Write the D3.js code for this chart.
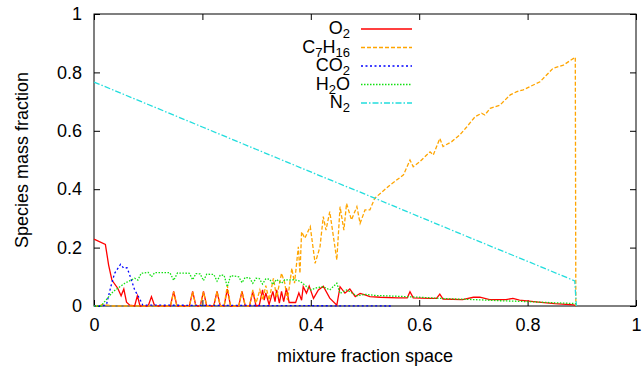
<!DOCTYPE html>
<html>
<head>
    <title>Species mass fraction</title>
    <script src="https://d3js.org/d3.v7.min.js"></script>
    <style>
        body { margin: 0; background: #fff; }
        svg { display: block; }
        text { font-family: "Liberation Sans", Arial, sans-serif; fill: #000; }
    </style>
</head>
<body>
    <svg width="642" height="369"></svg>
    <script>
        // tick labels
        const xTicks = [0, 0.2, 0.4, 0.6, 0.8, 1];
        const yTicks = [0, 0.2, 0.4, 0.6, 0.8, 1];

        // O2
        const o2X = [0, 0.021, 0.027, 0.033, 0.044, 0.05, 0.055, 0.06, 0.066, 0.075, 0.08, 0.085, 0.1, 0.106, 0.112,
            0.141, 0.147, 0.153, 0.176, 0.182, 0.188, 0.196, 0.202, 0.208, 0.221, 0.227, 0.233, 0.24, 0.246, 0.252,
            0.267, 0.273, 0.279, 0.287, 0.293, 0.299, 0.305, 0.311, 0.314, 0.317, 0.323, 0.33, 0.334, 0.337, 0.342,
            0.346, 0.35, 0.355, 0.36, 0.372, 0.378, 0.383, 0.386, 0.392, 0.397, 0.405, 0.414, 0.423, 0.435, 0.448,
            0.454, 0.463, 0.472, 0.482, 0.491, 0.5, 0.509, 0.528, 0.56, 0.578, 0.583, 0.589, 0.62, 0.632, 0.638,
            0.644, 0.68, 0.7, 0.712, 0.73, 0.76, 0.773, 0.785, 0.82, 0.85, 0.885, 0.89];
        const o2Y = [0.229, 0.211, 0.14, 0.089, 0.06, 0.035, 0.058, 0.013, 0.003, 0, 0.035, 0, 0, 0.032, 0,
            0, 0.05, 0, 0, 0.05, 0, 0, 0.05, 0, 0, 0.05, 0, 0, 0.058, 0,
            0, 0.05, 0, 0, 0.05, 0, 0.003, 0.055, 0.02, 0.045, 0.005, 0.05, 0.015, 0.055, 0.01,
            0.05, 0.015, 0.06, 0.012, 0.012, 0.045, 0.02, 0.066, 0.044, 0.068, 0.026, 0.055, 0.068, 0.027, 0.003,
            0.066, 0.044, 0.058, 0.032, 0.043, 0.038, 0.032, 0.03, 0.028, 0.028, 0.049, 0.028, 0.026, 0.026, 0.041,
            0.024, 0.022, 0.03, 0.03, 0.022, 0.022, 0.026, 0.02, 0.013, 0.008, 0.004, 0];

        // C7H16
        const fuelX = [0, 0.01, 0.015, 0.025, 0.035, 0.141, 0.147, 0.153, 0.176, 0.182, 0.188, 0.196, 0.202, 0.208,
            0.221, 0.227, 0.233, 0.24, 0.246, 0.252, 0.267, 0.273, 0.279, 0.287, 0.293, 0.299, 0.306, 0.311, 0.317,
            0.323, 0.331, 0.337, 0.346, 0.352, 0.357, 0.365, 0.37, 0.377, 0.38, 0.383, 0.389, 0.399, 0.408, 0.417,
            0.423, 0.428, 0.435, 0.448, 0.454, 0.461, 0.466, 0.475, 0.485, 0.491, 0.5, 0.509, 0.518, 0.546, 0.571,
            0.583, 0.589, 0.601, 0.62, 0.626, 0.638, 0.644, 0.66, 0.675, 0.688, 0.703, 0.715, 0.721, 0.731, 0.749,
            0.768, 0.78, 0.792, 0.804, 0.823, 0.835, 0.847, 0.866, 0.888, 0.889];
        const fuelY = [0, 0, 0.005, 0.003, 0, 0, 0.048, 0, 0, 0.048, 0, 0, 0.048, 0,
            0, 0.05, 0, 0, 0.07, 0, 0, 0.05, 0, 0, 0.055, 0.01, 0.055, 0.02, 0.07,
            0.02, 0.095, 0.03, 0.112, 0.078, 0.02, 0.129, 0.078, 0.203, 0.112, 0.254, 0.232, 0.272, 0.146, 0.203,
            0.306, 0.26, 0.323, 0.158, 0.34, 0.26, 0.351, 0.295, 0.34, 0.283, 0.329, 0.329, 0.369, 0.414, 0.449,
            0.5, 0.477, 0.494, 0.528, 0.517, 0.574, 0.546, 0.563, 0.586, 0.614, 0.648, 0.66, 0.654, 0.677, 0.688,
            0.723, 0.734, 0.74, 0.751, 0.768, 0.791, 0.814, 0.825, 0.852, 0];

        // CO2
        const co2X = [0, 0.015, 0.023, 0.031, 0.038, 0.049, 0.055, 0.061, 0.068, 0.075, 0.084, 0.09, 0.55];
        const co2Y = [0, 0, 0.005, 0.066, 0.112, 0.143, 0.129, 0.131, 0.095, 0.055, 0.026, 0.003, 0];

        // H2O
        const h2oX = [0, 0.013, 0.035, 0.057, 0.075, 0.081, 0.087, 0.1, 0.106, 0.112, 0.14, 0.147, 0.154, 0.176,
            0.182, 0.188, 0.196, 0.202, 0.208, 0.221, 0.227, 0.233, 0.24, 0.246, 0.252, 0.267, 0.273, 0.279, 0.287,
            0.293, 0.299, 0.305, 0.311, 0.317, 0.324, 0.33, 0.337, 0.346, 0.352, 0.36, 0.37, 0.38, 0.39, 0.4, 0.41,
            0.423, 0.435, 0.448, 0.454, 0.466, 0.485, 0.5, 0.52, 0.55, 0.6, 0.65, 0.7, 0.75, 0.8, 0.85, 0.88, 0.889, 0.89];
        const h2oY = [0, 0, 0.049, 0.078, 0.095, 0.089, 0.112, 0.115, 0.1, 0.114, 0.114, 0.088, 0.113, 0.112,
            0.09, 0.111, 0.11, 0.087, 0.109, 0.108, 0.085, 0.106, 0.105, 0.066, 0.104, 0.1, 0.08, 0.098, 0.096,
            0.078, 0.095, 0.094, 0.075, 0.093, 0.092, 0.074, 0.091, 0.078, 0.09, 0.089, 0.09, 0.085, 0.07, 0.055, 0.062,
            0.066, 0.055, 0.078, 0.043, 0.055, 0.035, 0.04, 0.036, 0.034, 0.03, 0.025, 0.022, 0.018, 0.015, 0.011, 0.009, 0.008, 0];

        // N2
        const n2X = [0, 0.1, 0.2, 0.3, 0.4, 0.5, 0.6, 0.7, 0.8, 0.887, 0.89];
        const n2Y = [0.767, 0.69, 0.613, 0.536, 0.459, 0.383, 0.306, 0.229, 0.153, 0.086, 0];

        const series = [
            { name: "O2", sub: [["O", false], ["2", true]], x: o2X, y: o2Y, color: "#ff0000", dash: null },
            { name: "C7H16", sub: [["C", false], ["7", true], ["H", false], ["16", true]], x: fuelX, y: fuelY, color: "#ffa500", dash: "4,2" },
            { name: "CO2", sub: [["CO", false], ["2", true]], x: co2X, y: co2Y, color: "#0000ff", dash: "2,2.5" },
            { name: "H2O", sub: [["H", false], ["2", true], ["O", false]], x: h2oX, y: h2oY, color: "#11e011", dash: "1.5,1.5" },
            { name: "N2", sub: [["N", false], ["2", true]], x: n2X, y: n2Y, color: "#22dddd", dash: "6,2,1.5,2" }
        ];

        const margin = { left: 94, right: 6, top: 14, bottom: 63 };
        const W = 642, H = 369;
        const x = d3.scaleLinear().domain([0, 1]).range([margin.left, W - margin.right]);
        const y = d3.scaleLinear().domain([0, 1]).range([H - margin.bottom, margin.top]);

        const svg = d3.select("svg");

        // axes with inward ticks, mirrored on all four sides
        const fmt = d => d === 0 || d === 1 ? d3.format("d")(d) : d3.format(".1f")(d);
        const axBottom = svg.append("g").attr("transform", `translate(0,${y(0)})`)
            .call(d3.axisBottom(x).tickValues(xTicks).tickSize(-6).tickPadding(12).tickFormat(fmt));
        const axTop = svg.append("g").attr("transform", `translate(0,${y(1)})`)
            .call(d3.axisTop(x).tickValues(xTicks).tickSize(-6).tickFormat(""));
        const axLeft = svg.append("g").attr("transform", `translate(${x(0)},0)`)
            .call(d3.axisLeft(y).tickValues(yTicks).tickSize(-6).tickPadding(12).tickFormat(fmt));
        const axRight = svg.append("g").attr("transform", `translate(${x(1)},0)`)
            .call(d3.axisRight(y).tickValues(yTicks).tickSize(-6).tickFormat(""));
        [axBottom, axTop, axLeft, axRight].forEach(g => {
            g.select(".domain").remove();
            g.selectAll("line").attr("stroke", "#000");
            g.selectAll("text").attr("font-size", 18).attr("fill", "#000")
                .attr("font-family", '"Liberation Sans", Arial, sans-serif');
        });

        svg.append("rect")
            .attr("x", x(0)).attr("y", y(1))
            .attr("width", x(1) - x(0)).attr("height", y(0) - y(1))
            .attr("fill", "none").attr("stroke", "#000").attr("stroke-width", 1);

        // curves
        const line = d3.line().x(d => x(d[0])).y(d => y(d[1]));
        svg.append("g").selectAll("path")
            .data(series)
            .enter().append("path")
            .attr("d", s => line(s.x.map((v, i) => [v, s.y[i]])))
            .attr("fill", "none")
            .attr("stroke", s => s.color)
            .attr("stroke-width", 1.3)
            .attr("stroke-dasharray", s => s.dash);

        // legend
        const legend = svg.append("g").selectAll("g")
            .data(series)
            .enter().append("g")
            .attr("transform", (s, i) => `translate(0,${29 + i * 18.5})`);
        legend.append("line")
            .attr("x1", 361).attr("x2", 412)
            .attr("stroke", s => s.color).attr("stroke-width", 1.3)
            .attr("stroke-dasharray", s => s.dash);
        const lt = legend.append("text")
            .attr("x", 350).attr("y", 5)
            .attr("text-anchor", "end")
            .attr("font-size", 18);
        lt.each(function(s) {
            const t = d3.select(this);
            s.sub.forEach(([str, isSub], i) => {
                const prev = i > 0 ? s.sub[i - 1][1] : false;
                t.append("tspan")
                    .attr("dy", isSub ? 4 : (prev ? -4 : 0))
                    .attr("font-size", isSub ? 13 : 18)
                    .text(str);
            });
        });

        // axis titles
        svg.append("text")
            .attr("x", 365).attr("y", 362)
            .attr("text-anchor", "middle").attr("font-size", 18)
            .text("mixture fraction space");
        svg.append("text")
            .attr("transform", "translate(28,160) rotate(-90)")
            .attr("text-anchor", "middle").attr("font-size", 18)
            .text("Species mass fraction");
    </script>
</body>
</html>
